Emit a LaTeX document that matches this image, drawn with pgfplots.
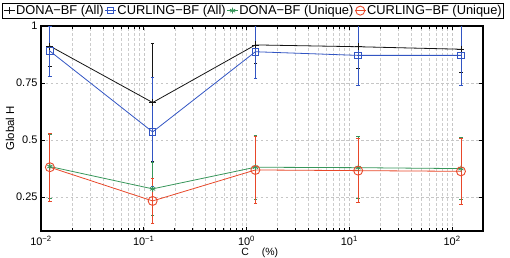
\documentclass[border=0pt]{standalone}
\usepackage{pgfplots}
\pgfplotsset{compat=1.18}
\usepackage{fontspec}
\setmainfont{Liberation Sans}
\definecolor{cblk}{RGB}{20,20,20}
\definecolor{cblu}{RGB}{50,85,195}
\definecolor{cgrn}{RGB}{55,150,90}
\definecolor{cred}{RGB}{232,72,42}
\begin{document}
\begin{tikzpicture}[x=1bp,y=1bp]
\begin{axis}[
  at={(41bp,27bp)}, anchor=south west,
  width=442bp, height=205bp, scale only axis,
  xmode=log, xmin=0.01, xmax=200,
  ymin=0.1, ymax=1,
  xtick={0.01,0.1,1,10,100},
  xticklabels={10\textsuperscript{−2},10\textsuperscript{−1},10\textsuperscript{0},10\textsuperscript{1},10\textsuperscript{2}},
  ytick={0.25,0.5,0.75,1},
  yticklabels={0.25,0.5,0.75,1},
  tick label style={font=\fontsize{11}{12}\selectfont},
  xticklabel style={yshift=-2bp},
  xmajorgrids, xminorgrids, ymajorgrids,
  major grid style={gray!45, dash pattern=on 2.5bp off 2.5bp, line width=0.4bp},
  minor grid style={gray!40, dash pattern=on 2.5bp off 2.5bp, line width=0.4bp},
  axis line style={line width=1.3bp, black},
  major tick length=4bp, minor tick length=2.5bp,
  tick style={black, line width=0.6bp},
  ylabel={Global H},
  ylabel style={at={(axis description cs:-0.070,0.5)}, anchor=center, rotate=0, font=\fontsize{11.5}{12}\selectfont},
  xlabel={C\hspace{10bp} (\%)},
  xlabel style={at={(axis description cs:0.495,-0.080)}, anchor=north, inner ysep=0.5bp, font=\fontsize{10.5}{11}\selectfont},
  legend columns=4,
  legend style={at={(axis description cs:-0.088,1.114)}, anchor=north west,
    font=\fontsize{12.9}{14}\selectfont, draw=black, line width=0.6bp, fill=white,
    inner xsep=1bp, inner ysep=0.8bp,
    /tikz/every even column/.append style={column sep=0bp},
    nodes={inner xsep=1bp, inner ysep=1.5bp}},
  legend image code/.code={\draw[mark repeat=2,mark phase=2,line width=0.8bp] plot coordinates {(0bp,0bp) (5.5bp,0bp) (11bp,0bp)};},
  error bars/error bar style={line width=0.8bp},
  error bars/error mark options={rotate=90, mark size=1.8bp, line width=0.8bp},
]
\addplot[cblk, line width=0.8bp, mark=+, mark size=3.5bp, error bars/.cd, y dir=both, y explicit]
  table[x=x, y=y, y error=e] {
x y e
0.0122 0.912 0.09
0.122 0.664 0.26
1.22 0.917 0.08
12.2 0.909 0.095
122 0.898 0.10
};
\addlegendentry{DONA−BF (All)}
\addplot[cblu, line width=0.8bp, mark=square, mark size=3.3bp, mark options={line width=0.9bp}, error bars/.cd, y dir=both, y explicit]
  table[x=x, y=y, y error=e] {
x y e
0.0122 0.89 0.11
0.122 0.535 0.238
1.22 0.887 0.115
12.2 0.871 0.133
122 0.871 0.133
};
\addlegendentry{CURLING−BF (All)}
\addplot[cgrn, line width=0.8bp, mark=asterisk, mark size=3bp, error bars/.cd, y dir=both, y explicit]
  table[x=x, y=y, y error=e] {
x y e
0.0122 0.383 0.14
0.122 0.285 0.115
1.22 0.38 0.14
12.2 0.378 0.137
122 0.374 0.136
};
\addlegendentry{DONA−BF (Unique)}
\addplot[cred, line width=0.8bp, mark=o, mark size=4.5bp, mark options={line width=0.9bp}, error bars/.cd, y dir=both, y explicit]
  table[x=x, y=y, y error=e] {
x y e
0.0122 0.38 0.148
0.122 0.232 0.10
1.22 0.368 0.147
12.2 0.365 0.14
122 0.362 0.145
};
\addlegendentry{CURLING−BF (Unique)}
\end{axis}
\pgfresetboundingbox
\useasboundingbox (0,0) rectangle (510bp,258bp);
\end{tikzpicture}
\end{document}
